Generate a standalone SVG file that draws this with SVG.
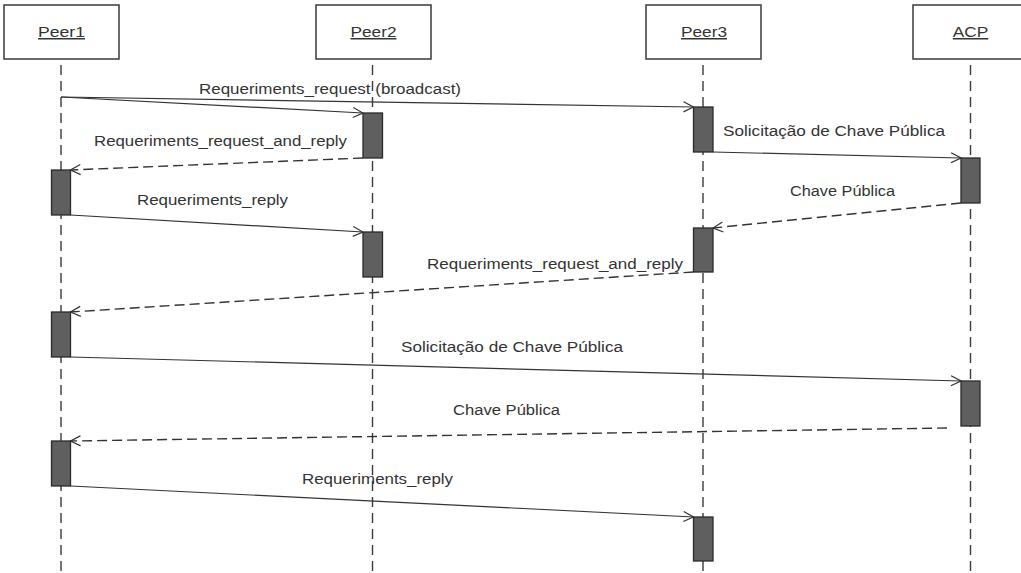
<svg xmlns="http://www.w3.org/2000/svg" width="1021" height="573" viewBox="0 0 1021 573">
  <style>
    .head { fill: #ffffff; stroke: #3a3a3a; stroke-width: 1.5; }
    .name { font-family: "Liberation Sans", Arial, sans-serif; font-size: 15px; fill: #333333; text-anchor: middle; text-decoration: underline; }
    .life { stroke: #3a3a3a; stroke-width: 1.4; stroke-dasharray: 10 6; fill: none; }
    .act { fill: #5f5f5f; stroke: #2a2a2a; stroke-width: 1.3; }
    .msg { stroke: #333333; stroke-width: 1.2; fill: none; marker-end: url(#open); }
    .ret { stroke: #333333; stroke-width: 1.4; fill: none; stroke-dasharray: 10 5; marker-end: url(#open); }
    .lbl { font-family: "Liberation Sans", Arial, sans-serif; font-size: 14px; fill: #333333; }
  </style>
  <defs>
    <marker id="open" viewBox="0 0 12 12" refX="11" refY="6" markerWidth="12" markerHeight="12" markerUnits="userSpaceOnUse" orient="auto">
      <path d="M1,1 L11,6 L1,11" fill="none" stroke="#333333" stroke-width="1.2"/>
    </marker>
  </defs>
  <rect width="1021" height="573" fill="#ffffff"/>

  <!-- participants: header box, lifeline, activation bars -->
  <g id="peer1">
    <rect class="head" x="4" y="5" width="115" height="54"/>
    <text class="name" x="61.5" y="37" textLength="47" lengthAdjust="spacingAndGlyphs">Peer1</text>
    <line class="life" x1="61" y1="65" x2="61" y2="573"/>
    <rect class="act" x="51.5" y="170" width="19" height="45"/>
    <rect class="act" x="51.5" y="312" width="19" height="45"/>
    <rect class="act" x="51.5" y="441" width="19" height="45"/>
  </g>
  <g id="peer2">
    <rect class="head" x="316" y="5" width="115" height="54"/>
    <text class="name" x="373.5" y="37" textLength="46" lengthAdjust="spacingAndGlyphs">Peer2</text>
    <line class="life" x1="372.5" y1="65" x2="372.5" y2="573"/>
    <rect class="act" x="363" y="113" width="19.5" height="45"/>
    <rect class="act" x="363" y="232" width="19.5" height="45"/>
  </g>
  <g id="peer3">
    <rect class="head" x="646" y="5" width="115" height="54"/>
    <text class="name" x="704" y="37" textLength="46" lengthAdjust="spacingAndGlyphs">Peer3</text>
    <line class="life" x1="703" y1="65" x2="703" y2="573"/>
    <rect class="act" x="693.5" y="107" width="19.5" height="45"/>
    <rect class="act" x="693.5" y="228" width="19.5" height="44"/>
    <rect class="act" x="693.5" y="517" width="19.5" height="44"/>
  </g>
  <g id="acp">
    <rect class="head" x="913" y="5" width="115" height="54"/>
    <text class="name" x="970.5" y="37" textLength="35.5" lengthAdjust="spacingAndGlyphs">ACP</text>
    <line class="life" x1="970.5" y1="65" x2="970.5" y2="573"/>
    <rect class="act" x="961" y="158" width="19" height="45"/>
    <rect class="act" x="961" y="381" width="19" height="45"/>
  </g>

  <!-- messages -->
  <g id="connectors">
    <line class="msg" x1="61" y1="97" x2="363" y2="113"/>
    <line class="msg" x1="61" y1="97" x2="693.5" y2="107"/>
    <line class="ret" x1="363" y1="158" x2="70.5" y2="170"/>
    <line class="msg" x1="713" y1="152" x2="961" y2="158"/>
    <line class="ret" x1="961" y1="203" x2="713" y2="228"/>
    <line class="msg" x1="70.5" y1="215" x2="363" y2="232"/>
    <line class="ret" x1="693.5" y1="272" x2="70.5" y2="312"/>
    <line class="msg" x1="70.5" y1="357" x2="961" y2="381"/>
    <line class="ret" x1="947" y1="428" x2="70.5" y2="441"/>
    <line class="msg" x1="70.5" y1="486" x2="693.5" y2="517"/>
  </g>

  <!-- message labels -->
  <g id="labels">
    <text class="lbl" x="199" y="94" textLength="262" lengthAdjust="spacingAndGlyphs">Requeriments_request (broadcast)</text>
    <text class="lbl" x="94" y="146" textLength="253" lengthAdjust="spacingAndGlyphs">Requeriments_request_and_reply</text>
    <text class="lbl" x="723" y="136" textLength="222" lengthAdjust="spacingAndGlyphs">Solicitação de Chave Pública</text>
    <text class="lbl" x="790" y="196" textLength="105" lengthAdjust="spacingAndGlyphs">Chave Pública</text>
    <text class="lbl" x="137" y="205" textLength="151" lengthAdjust="spacingAndGlyphs">Requeriments_reply</text>
    <text class="lbl" x="427" y="269" textLength="256" lengthAdjust="spacingAndGlyphs">Requeriments_request_and_reply</text>
    <text class="lbl" x="401" y="352" textLength="222" lengthAdjust="spacingAndGlyphs">Solicitação de Chave Pública</text>
    <text class="lbl" x="453" y="415" textLength="107" lengthAdjust="spacingAndGlyphs">Chave Pública</text>
    <text class="lbl" x="302" y="484" textLength="151" lengthAdjust="spacingAndGlyphs">Requeriments_reply</text>
  </g>
</svg>
